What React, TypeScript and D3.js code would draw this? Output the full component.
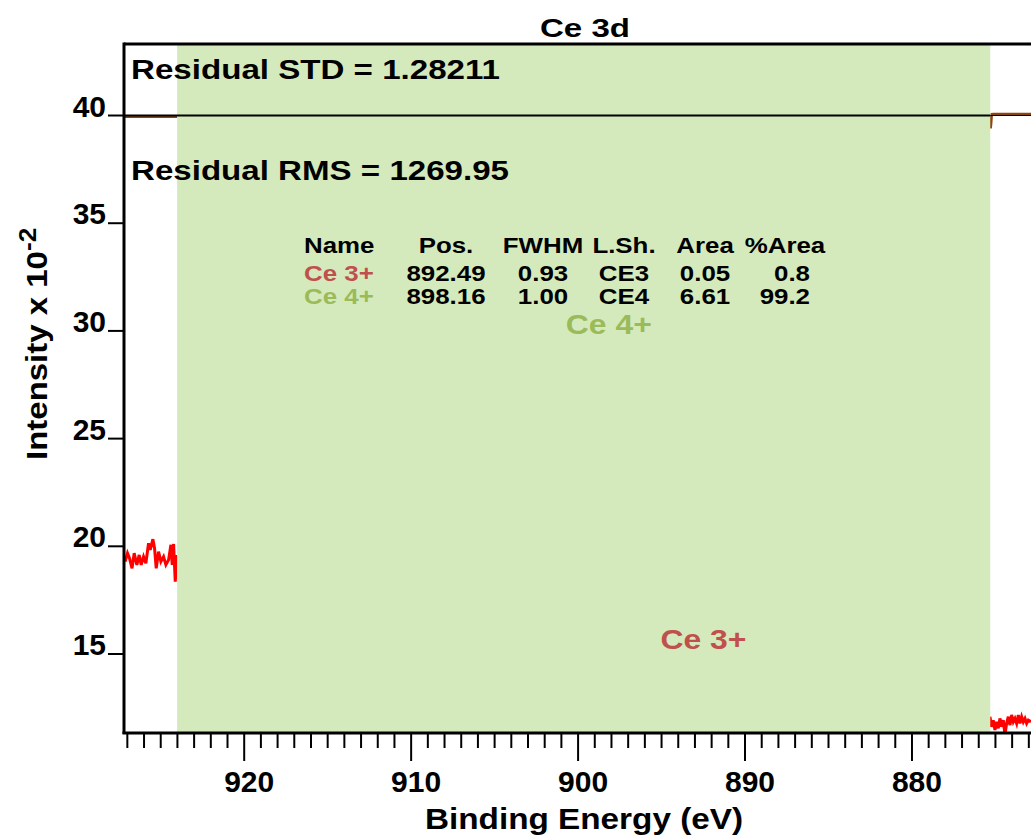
import React from "react";
import * as d3 from "d3";

// ---- data ----
const title = "Ce 3d";
const xLabel = "Binding Energy (eV)";
const yLabelMain = "Intensity x 10";
const yLabelExp = "-2";
const residualStd = "Residual STD = 1.28211";
const residualRms = "Residual RMS = 1269.95";

const xMajorTicks = [920, 910, 900, 890, 880];
const yTicks = [15, 20, 25, 30, 35, 40];

// fit region (eV)
const regionStart = 924.02;
const regionEnd = 875.31;

// raw spectrum visible outside the fit region [eV, intensity x 10^-2]
const spectrumLeft: [number, number][] = [
  [927.13, 19.29], [926.99, 19.68], [926.87, 19.45], [926.72, 18.98], [926.59, 19.68],
  [926.43, 19.14], [926.29, 19.6], [926.17, 19.14], [926.03, 19.52], [925.89, 19.21],
  [925.73, 20.14], [925.63, 19.83], [925.47, 20.33], [925.37, 19.91], [925.27, 18.98],
  [925.13, 19.75], [924.99, 19.29], [924.83, 19.52], [924.69, 19.14], [924.53, 19.37],
  [924.39, 20.07], [924.31, 19.14], [924.23, 20.11], [924.13, 18.36], [924.03, 19.6],
];
const spectrumRight: [number, number][] = [
  [875.33, 12.09], [875.23, 11.62], [875.13, 11.93], [875.03, 11.47], [874.93, 11.85],
  [874.83, 11.55], [874.73, 12.01], [874.63, 11.62], [874.53, 11.93], [874.43, 11.24],
  [874.33, 11.78], [874.23, 12.09], [874.13, 11.7], [874.03, 12.17], [873.93, 11.85],
  [873.83, 12.01], [873.73, 11.78], [873.63, 12.17], [873.53, 11.78], [873.43, 12.09],
  [873.33, 11.85], [873.23, 12.01], [873.13, 11.78], [873.03, 11.93], [872.87, 11.85],
];
// residual trace (offset to 40)
const residualLeft: [number, number][] = [[927.2, 39.94], [924.02, 39.94]];
const residualRight: [number, number][] = [
  [875.31, 40.0], [875.29, 39.4], [875.26, 39.6], [875.22, 40.06], [875.1, 40.07], [872.8, 40.07],
];
const residualBase = 40;

// components
const compNames = ["Ce 3+", "Ce 4+"];
const compPos = [892.49, 898.16];
const compFwhm = ["0.93", "1.00"];
const compLsh = ["CE3", "CE4"];
const compArea = ["0.05", "6.61"];
const compPct = ["0.8", "99.2"];
const compColors = ["#c0504d", "#9bbb59"];
const compLabelY = [15.25, 29.85];
const tableHeaders = ["Name", "Pos.", "FWHM", "L.Sh.", "Area", "%Area"];

const FONT = "'Liberation Sans', Arial, Helvetica, sans-serif";

export default function App() {
  const W = 1031;
  const H = 836;
  const left = 124, right = 1031, top = 44, bottom = 733;
  const x = d3.scaleLinear().domain([927.2, 872.87]).range([left, right]);
  const y = d3.scaleLinear().domain([11.333, 43.32]).range([bottom, top]);
  const line = d3
    .line<[number, number]>()
    .x((d) => x(d[0]))
    .y((d) => y(d[1]));
  const minorTicks = d3
    .range(873, 928)
    .filter((v) => v <= 927.2 && !xMajorTicks.includes(v));

  const sx = 1.15;
  const colCenters = [0, 446, 543, 624, 705, 785];
  const rowY = [253, 281, 304];

  const cell = (
    txt: string,
    cx: number,
    cy: number,
    anchor: "start" | "middle" | "end",
    fill = "#000",
    key?: string
  ) => (
    <text
      key={key}
      transform={`translate(${cx},${cy}) scale(${sx},1)`}
      textAnchor={anchor}
      fontSize={22.5}
      fontWeight="bold"
      fill={fill}
    >
      {txt}
    </text>
  );

  return (
    <svg
      width={W}
      height={H}
      style={{ position: "absolute", left: 0, top: 0, background: "#fff" }}
      fontFamily={FONT}
    >
      <defs>
        <clipPath id="plotclip">
          <rect x={left} y={top} width={right - left + 50} height={bottom - top} />
        </clipPath>
      </defs>
      <rect x={0} y={0} width={W} height={H} fill="#fff" />

      <g clipPath="url(#plotclip)">
        {/* spectrum */}
        <path d={line(spectrumLeft) || ""} fill="none" stroke="#ff0000" strokeWidth={3} />
        <path d={line(spectrumRight) || ""} fill="none" stroke="#ff0000" strokeWidth={3} />
        {/* residual */}
        <path d={line(residualLeft) || ""} fill="none" stroke="#8B4513" strokeWidth={2.5} />
        <path d={line(residualRight) || ""} fill="none" stroke="#8B4513" strokeWidth={2.5} />
        {/* fit region fill */}
        <rect
          x={x(regionStart)}
          y={top}
          width={x(regionEnd) - x(regionStart)}
          height={bottom - top}
          fill="#d5eabc"
        />
        {/* residual baseline */}
        <line
          x1={left}
          x2={x(regionEnd)}
          y1={y(residualBase)}
          y2={y(residualBase)}
          stroke="#000"
          strokeWidth={2}
        />
        <line
          x1={x(regionEnd)}
          x2={right + 10}
          y1={y(residualBase)}
          y2={y(residualBase)}
          stroke="#000"
          strokeWidth={1.2}
        />
      </g>

      {/* frame */}
      <line x1={left} x2={right + 10} y1={top} y2={top} stroke="#000" strokeWidth={3} />
      <line x1={left} x2={left} y1={top - 1.5} y2={bottom + 1} stroke="#000" strokeWidth={3} />
      <line x1={left - 1.5} x2={right + 10} y1={bottom} y2={bottom} stroke="#000" strokeWidth={3} />

      {/* x ticks */}
      {minorTicks.map((v) => (
        <line key={"m" + v} x1={x(v)} x2={x(v)} y1={bottom} y2={748} stroke="#000" strokeWidth={2} />
      ))}
      {xMajorTicks.map((v) => (
        <g key={"M" + v}>
          <line x1={x(v)} x2={x(v)} y1={bottom} y2={761} stroke="#000" strokeWidth={2} />
          <text x={x(v) + 5} y={792} textAnchor="middle" fontSize={30} fontWeight="bold">
            {v}
          </text>
        </g>
      ))}

      {/* y ticks */}
      {yTicks.map((v) => (
        <g key={"y" + v}>
          <line x1={108} x2={left} y1={y(v)} y2={y(v)} stroke="#000" strokeWidth={2} />
          <text x={106} y={y(v) + 1} textAnchor="end" fontSize={30} fontWeight="bold">
            {v}
          </text>
        </g>
      ))}

      {/* titles */}
      <text x={585} y={37} textAnchor="middle" fontSize={26} fontWeight="bold" textLength={90} lengthAdjust="spacingAndGlyphs">
        {title}
      </text>
      <text x={584} y={829} textAnchor="middle" fontSize={30} fontWeight="bold" textLength={318} lengthAdjust="spacingAndGlyphs">
        {xLabel}
      </text>
      <text transform="translate(47,460) rotate(-90) scale(1.1,1)" fontSize={30} fontWeight="bold">
        {yLabelMain}
        <tspan fontSize={24} dy={-11}>
          {yLabelExp}
        </tspan>
      </text>

      {/* residual stats */}
      <text x={131} y={79} fontSize={27} fontWeight="bold" textLength={369} lengthAdjust="spacingAndGlyphs">
        {residualStd}
      </text>
      <text x={131} y={180} fontSize={27} fontWeight="bold" textLength={378} lengthAdjust="spacingAndGlyphs">
        {residualRms}
      </text>

      {/* table */}
      {tableHeaders.map((h, i) =>
        cell(h, i === 0 ? 304 : colCenters[i], rowY[0], i === 0 ? "start" : "middle", "#000", "h" + i)
      )}
      {compNames.map((n, r) => (
        <g key={"row" + r}>
          {cell(n, 304, rowY[r + 1], "start", compColors[r])}
          {cell(compPos[r].toFixed(2), colCenters[1], rowY[r + 1], "middle")}
          {cell(compFwhm[r], colCenters[2], rowY[r + 1], "middle")}
          {cell(compLsh[r], colCenters[3], rowY[r + 1], "middle")}
          {cell(compArea[r], colCenters[4], rowY[r + 1], "middle")}
          {cell(compPct[r], 810, rowY[r + 1], "end")}
        </g>
      ))}

      {/* component labels */}
      {compNames.map((n, i) => (
        <text
          key={"cl" + i}
          transform={`translate(${x(compPos[i])},${y(compLabelY[i])}) scale(1.18,1)`}
          textAnchor="middle"
          fontSize={27}
          fontWeight="bold"
          fill={compColors[i]}
        >
          {n}
        </text>
      ))}
    </svg>
  );
}
